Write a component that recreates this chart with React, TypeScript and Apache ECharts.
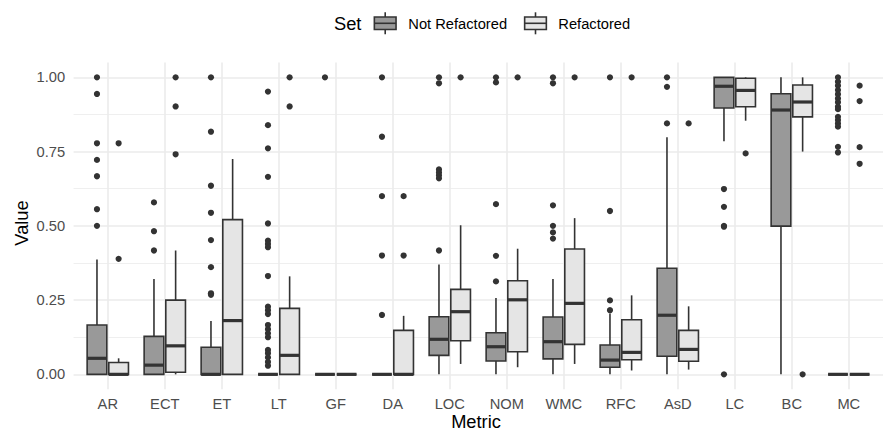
import React, { useEffect, useRef } from "react";
import * as echarts from "echarts";

const metrics = ["AR", "ECT", "ET", "LT", "GF", "DA", "LOC", "NOM", "WMC", "RFC", "AsD", "LC", "BC", "MC"];

// [lower whisker, Q1, median, Q3, upper whisker]
const notRefactoredBoxes: number[][] = [
  [0, 0, 0.054, 0.166, 0.387],
  [0, 0, 0.031, 0.128, 0.321],
  [0, 0, 0, 0.091, 0.18],
  [0, 0, 0, 0, 0],
  [0, 0, 0, 0, 0],
  [0, 0, 0, 0, 0],
  [0, 0.064, 0.118, 0.194, 0.37],
  [0, 0.045, 0.093, 0.14, 0.257],
  [0, 0.052, 0.11, 0.193, 0.321],
  [0, 0.024, 0.048, 0.099, 0.205],
  [0, 0.061, 0.199, 0.357, 0.798],
  [0.785, 0.897, 0.97, 1.0, 1.0],
  [0, 0.499, 0.89, 0.945, 1.0],
  [0, 0, 0, 0, 0],
];

const refactoredBoxes: number[][] = [
  [0, 0, 0, 0.04, 0.054],
  [0, 0.007, 0.096, 0.25, 0.417],
  [0, 0, 0.181, 0.521, 0.725],
  [0, 0, 0.064, 0.222, 0.33],
  [0, 0, 0, 0, 0],
  [0, 0, 0, 0.148, 0.197],
  [0.035, 0.113, 0.211, 0.286, 0.502],
  [0.024, 0.076, 0.251, 0.315, 0.423],
  [0.035, 0.101, 0.239, 0.422, 0.526],
  [0.013, 0.049, 0.074, 0.184, 0.266],
  [0.016, 0.044, 0.084, 0.148, 0.229],
  [0.854, 0.901, 0.956, 0.997, 1.0],
  [0.75, 0.867, 0.917, 0.974, 1.0],
  [0, 0, 0, 0, 0],
];

const notRefactoredOutliers: number[][] = [
  [1, 0.944, 0.778, 0.722, 0.667, 0.556, 0.5],
  [0.579, 0.482, 0.417],
  [1, 0.817, 0.635, 0.544, 0.452, 0.361, 0.273, 0.268],
  [0.952, 0.839, 0.761, 0.665, 0.508, 0.45, 0.439, 0.428, 0.331, 0.228, 0.216, 0.203, 0.166, 0.152, 0.138, 0.125, 0.082, 0.071, 0.057, 0.042, 0.029],
  [1],
  [1, 0.8, 0.6, 0.4, 0.2],
  [1, 0.98, 0.69, 0.68, 0.67, 0.66, 0.417],
  [1, 0.983, 0.573, 0.399, 0.313],
  [1, 0.98, 0.569, 0.5, 0.478, 0.457],
  [1, 0.55, 0.249, 0.216],
  [1, 0.968, 0.845],
  [0.624, 0.564, 0.5, 0.497, 0],
  [],
  [1, 0.985, 0.972, 0.957, 0.943, 0.929, 0.916, 0.901, 0.893, 0.867, 0.856, 0.845, 0.834, 0.766, 0.747],
];

const refactoredOutliers: number[][] = [
  [0.778, 0.389],
  [1, 0.902, 0.741],
  [],
  [1, 0.902],
  [],
  [0.6, 0.4],
  [1],
  [1],
  [1],
  [1],
  [0.845],
  [0.744],
  [0],
  [0.972, 0.92, 0.765, 0.709],
];

const yMajorTicks = [0, 0.25, 0.5, 0.75, 1];
const yMinorTicks = [0.125, 0.375, 0.625, 0.875];
const xTicks = metrics.map((_, i) => i);

const sets = ["Not Refactored", "Refactored"];
const FILL_DARK = "#999999";
const FILL_LIGHT = "#E5E5E5";
const INK = "#333333";
const FONT = "'Liberation Sans', Arial, Helvetica, sans-serif";
const DODGE = 0.19;
const BOX_W = 0.345;

function makeRenderItem(offset: number, fill: string) {
  return (params: any, api: any) => {
    const x = api.value(0) + offset;
    const lo = api.coord([x, api.value(1)]);
    const q1 = api.coord([x, api.value(2)]);
    const med = api.coord([x, api.value(3)]);
    const q3 = api.coord([x, api.value(4)]);
    const hi = api.coord([x, api.value(5)]);
    const bw = api.size([BOX_W, 0])[0];
    const cx = q1[0];
    const lw = 1.6;
    return {
      type: "group",
      children: [
        { type: "line", shape: { x1: cx, y1: q3[1], x2: cx, y2: hi[1] }, style: { stroke: INK, lineWidth: lw } },
        { type: "line", shape: { x1: cx, y1: q1[1], x2: cx, y2: lo[1] }, style: { stroke: INK, lineWidth: lw } },
        {
          type: "rect",
          shape: { x: cx - bw / 2, y: q3[1], width: bw, height: q1[1] - q3[1] },
          style: { fill, stroke: INK, lineWidth: lw },
        },
        {
          type: "line",
          shape: { x1: cx - bw / 2, y1: med[1], x2: cx + bw / 2, y2: med[1] },
          style: { stroke: INK, lineWidth: 3.2 },
        },
      ],
    };
  };
}

function legendKey(cx: number, cy: number, fill: string) {
  const w = 21.7;
  const h = 12.5;
  return {
    type: "group",
    children: [
      { type: "line", shape: { x1: cx, y1: cy - 11, x2: cx, y2: cy - h / 2 }, style: { stroke: INK, lineWidth: 1.6 } },
      { type: "line", shape: { x1: cx, y1: cy + h / 2, x2: cx, y2: cy + 11 }, style: { stroke: INK, lineWidth: 1.6 } },
      { type: "rect", shape: { x: cx - w / 2, y: cy - h / 2, width: w, height: h }, style: { fill, stroke: INK, lineWidth: 1.6 } },
      { type: "line", shape: { x1: cx - w / 2, y1: cy, x2: cx + w / 2, y2: cy }, style: { stroke: INK, lineWidth: 1.6 } },
    ],
  };
}

export default function App() {
  const ref = useRef<HTMLDivElement>(null);
  useEffect(() => {
    if (!ref.current) return;
    const chart = echarts.init(ref.current, null, { renderer: "svg" });

    const boxData = (boxes: number[][]) => boxes.map((b, i) => [i, ...b]);
    const outlierData = (outs: number[][], offset: number) => {
      const pts: number[][] = [];
      outs.forEach((vals, i) => vals.forEach((v) => pts.push([i + offset, v])));
      return pts;
    };

    chart.setOption({
      animation: false,
      backgroundColor: "#FFFFFF",
      grid: { left: 73.6, right: -11.8, top: 62.5, bottom: 43.8, containLabel: false },
      xAxis: [
        {
          type: "value",
          min: -0.6,
          max: 13.6,
          axisLine: { show: false },
          axisTick: { show: false, customValues: xTicks },
          axisLabel: {
            customValues: xTicks,
            formatter: (v: number) => metrics[Math.round(v)] ?? "",
            color: "#4D4D4D",
            fontSize: 14.7,
            fontFamily: FONT,
            margin: 7,
          },
          splitLine: { show: true, lineStyle: { color: "#EBEBEB", width: 1.6 } },
        },
      ],
      yAxis: [
        {
          type: "value",
          min: -0.05,
          max: 1.05,
          axisLine: { show: false },
          axisTick: { show: false, customValues: yMajorTicks },
          axisLabel: {
            customValues: yMajorTicks,
            formatter: (v: number) => v.toFixed(2),
            color: "#4D4D4D",
            fontSize: 14.7,
            fontFamily: FONT,
            margin: 8.5,
          },
          splitLine: { show: true, lineStyle: { color: "#EBEBEB", width: 1.6 } },
        },
        {
          type: "value",
          min: -0.05,
          max: 1.05,
          axisLine: { show: false },
          axisTick: { show: false, customValues: yMinorTicks },
          axisLabel: { show: false, customValues: yMinorTicks },
          splitLine: { show: true, lineStyle: { color: "#EBEBEB", width: 0.8 } },
        },
      ],
      series: [
        {
          type: "custom",
          name: sets[0],
          renderItem: makeRenderItem(-DODGE, FILL_DARK),
          encode: { x: 0, y: [1, 2, 3, 4, 5] },
          data: boxData(notRefactoredBoxes),
          z: 2,
        },
        {
          type: "custom",
          name: sets[1],
          renderItem: makeRenderItem(DODGE, FILL_LIGHT),
          encode: { x: 0, y: [1, 2, 3, 4, 5] },
          data: boxData(refactoredBoxes),
          z: 2,
        },
        {
          type: "scatter",
          name: sets[0] + " outliers",
          data: outlierData(notRefactoredOutliers, -DODGE),
          symbol: "circle",
          symbolSize: 6.2,
          itemStyle: { color: INK, opacity: 1 },
          z: 3,
        },
        {
          type: "scatter",
          name: sets[1] + " outliers",
          data: outlierData(refactoredOutliers, DODGE),
          symbol: "circle",
          symbolSize: 6.2,
          itemStyle: { color: INK, opacity: 1 },
          z: 3,
        },
      ],
      graphic: [
        {
          type: "text",
          left: 334,
          top: 14.5,
          style: { text: "Set", fontSize: 18.3, fontFamily: FONT, fill: "#000000" },
        },
        legendKey(385.2, 23.3, FILL_DARK),
        {
          type: "text",
          left: 408.3,
          top: 16,
          style: { text: sets[0], fontSize: 14.7, fontFamily: FONT, fill: "#000000" },
        },
        legendKey(535.5, 23.3, FILL_LIGHT),
        {
          type: "text",
          left: 558.3,
          top: 16,
          style: { text: sets[1], fontSize: 14.7, fontFamily: FONT, fill: "#000000" },
        },
        {
          type: "text",
          x: 476,
          y: 421,
          style: { text: "Metric", fontSize: 18.3, fontFamily: FONT, fill: "#000000", align: "center", verticalAlign: "middle" },
        },
        {
          type: "text",
          x: 21,
          y: 223,
          rotation: Math.PI / 2,
          style: { text: "Value", fontSize: 18.3, fontFamily: FONT, fill: "#000000", align: "center", verticalAlign: "middle" },
        },
      ],
    });
    return () => chart.dispose();
  }, []);
  return <div ref={ref} style={{ position: "fixed", left: 0, top: 0, width: 883, height: 433 }} />;
}
